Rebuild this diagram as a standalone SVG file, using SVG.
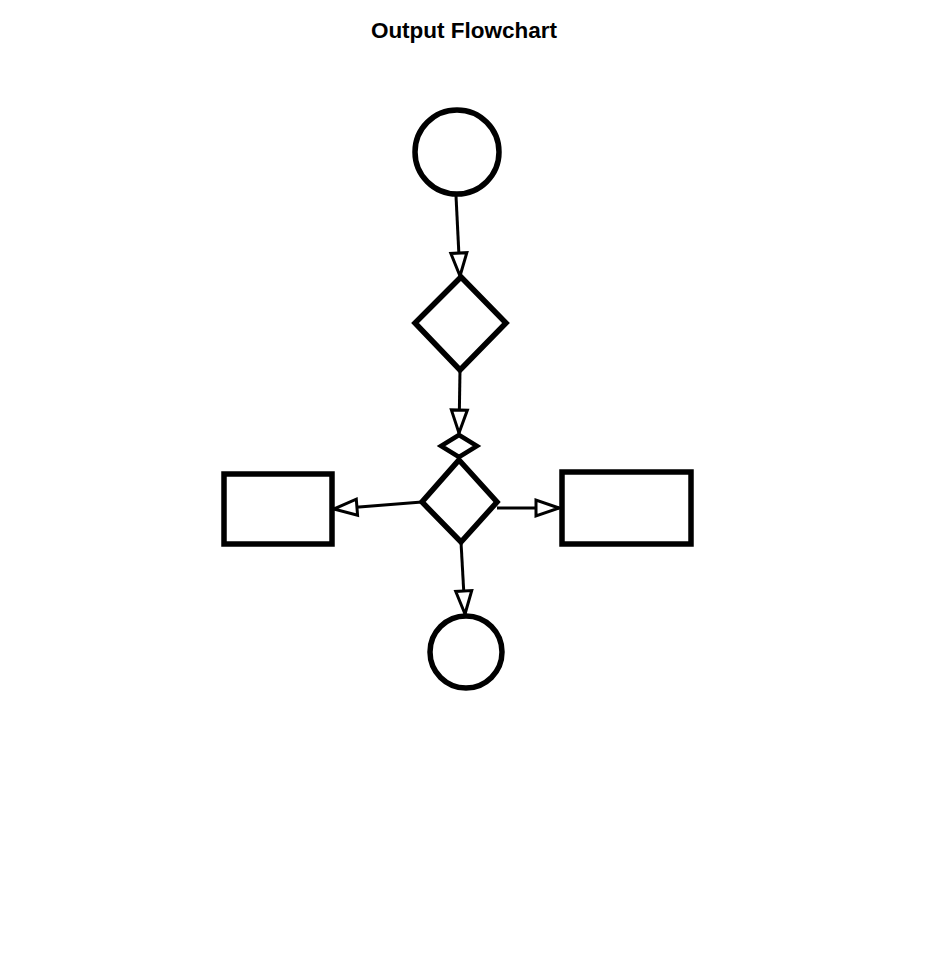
<svg xmlns="http://www.w3.org/2000/svg" width="931" height="958" viewBox="0 0 931 958">
<style>
.node{fill:#fff;stroke:#000;stroke-width:5.5}
.edge{fill:none;stroke:#000;stroke-width:3;marker-end:url(#arr)}
.title{font-family:"Liberation Sans",Arial,sans-serif;font-weight:bold;font-size:22.5px;text-anchor:middle}
</style>
<defs>
<marker id="arr" markerUnits="userSpaceOnUse" markerWidth="30" markerHeight="22" viewBox="-26 -11 30 22" refX="0" refY="0" orient="auto">
<polygon points="0,0 -23,-8 -23,8" fill="#fff" stroke="#000" stroke-width="3" stroke-linejoin="miter"/>
</marker>
</defs>
<rect width="931" height="958" fill="#fff"/>
<text class="title" x="464" y="38">Output Flowchart</text>
<g id="connectors">
<path class="edge" d="M456,196 L460,276"/>
<path class="edge" d="M460,370 L459,433"/>
<path class="edge" d="M422,502 L334,509"/>
<path class="edge" d="M497,508 L559,508"/>
<path class="edge" d="M461,542 L465,614"/>
</g>
<g id="start"><circle class="node" cx="457" cy="152" r="42"/></g>
<g id="decision1"><polygon class="node" points="461,277 506,323 460,370 415,323"/></g>
<g id="junction"><polygon class="node" style="stroke-width:4.5" points="459,435 477,446 459,457 441,446"/></g>
<g id="decision2"><polygon class="node" points="459,460 497,502 461,542 422,502"/></g>
<g id="left-box"><rect class="node" x="224" y="474" width="108" height="70"/></g>
<g id="right-box"><rect class="node" x="562" y="472" width="129" height="72"/></g>
<g id="end"><circle class="node" cx="466" cy="652" r="36"/></g>
</svg>
